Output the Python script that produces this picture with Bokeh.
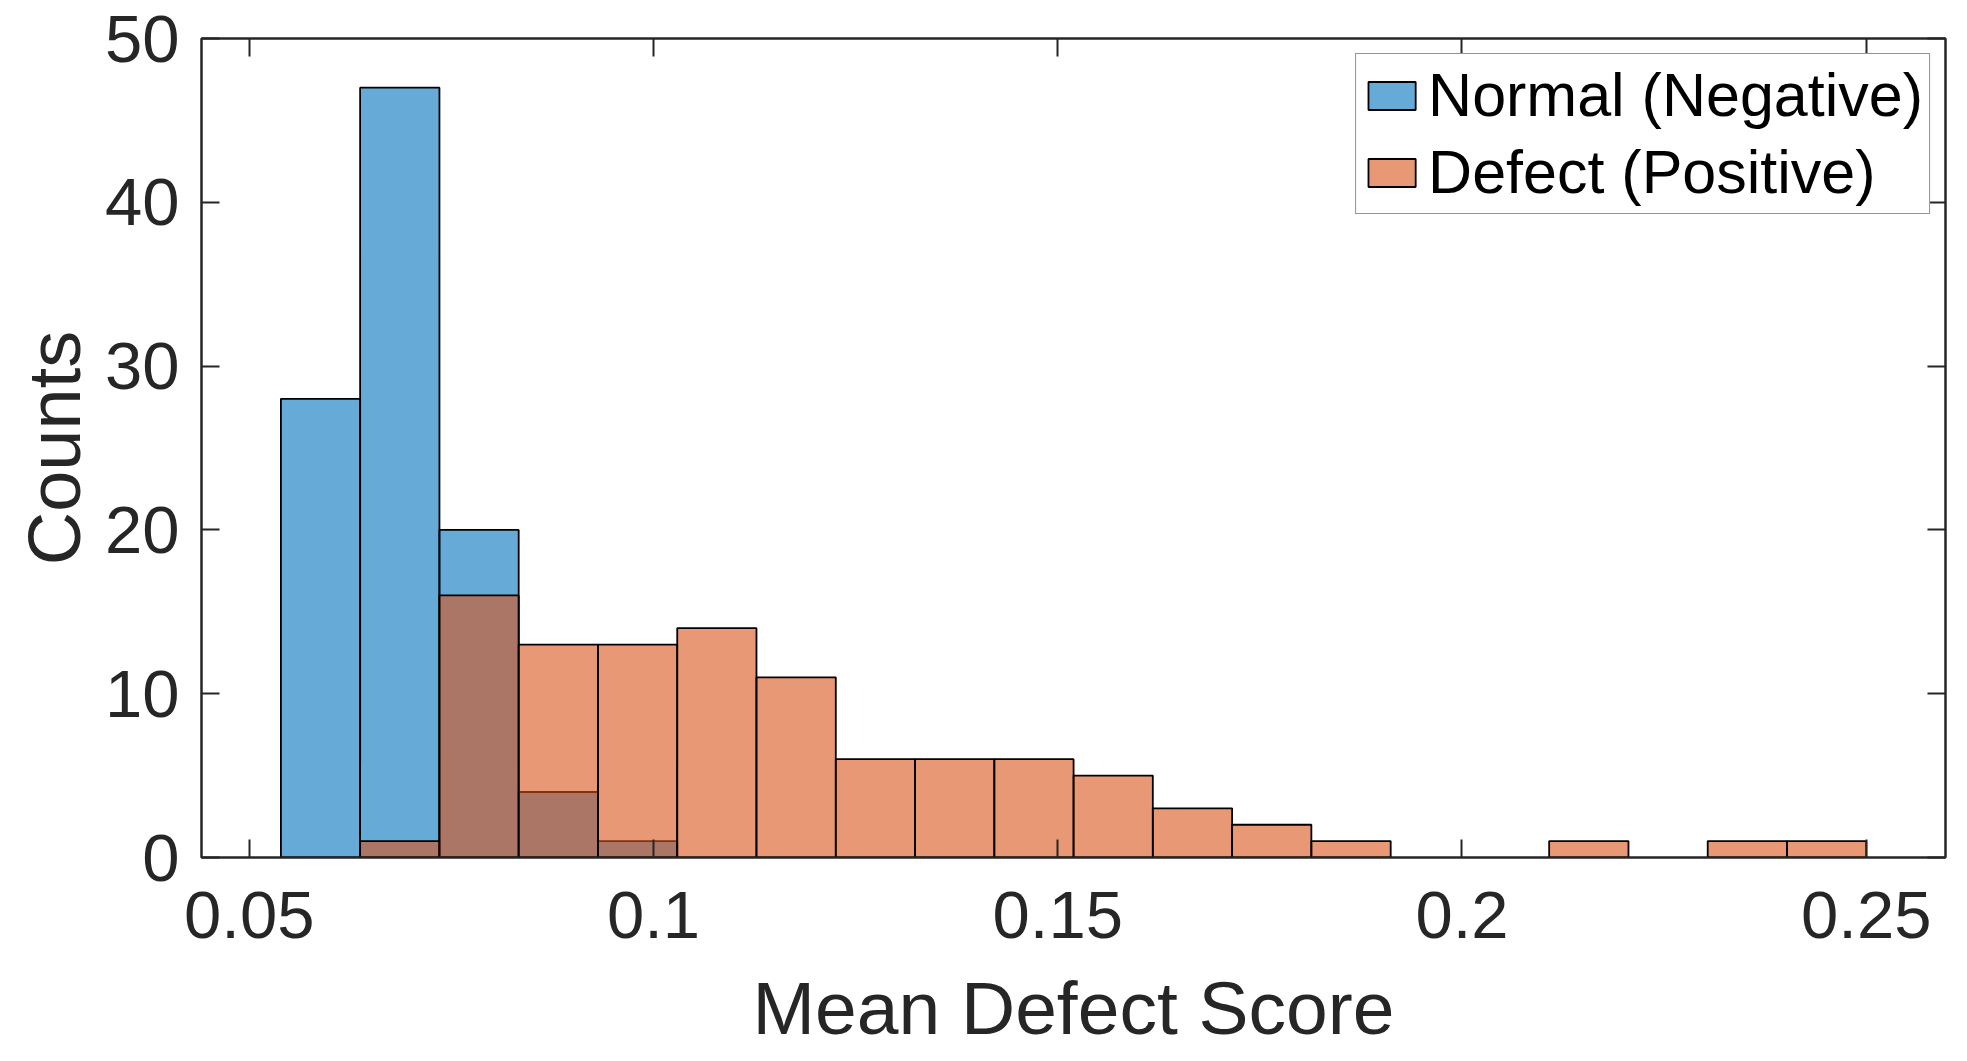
from bokeh.plotting import figure
from bokeh.models import (LinearAxis, Range1d, FixedTicker, Legend, LegendItem,
                          ColumnDataSource, CustomJSTickFormatter)
from bokeh.embed import file_html
from bokeh.resources import INLINE

# ---- data ----
bin_edges = [0.05392, 0.06372, 0.07353, 0.08333, 0.09314, 0.10294, 0.11274,
             0.12255, 0.13235, 0.14216, 0.15196, 0.16176, 0.17157, 0.18137,
             0.19118, 0.20098, 0.21078, 0.22059, 0.23039, 0.24020, 0.25000]
normal_counts = [28, 47, 20, 4, 1, 0, 0, 0, 0, 0, 0, 0, 0, 0, 0, 0, 0, 0, 0, 0]
defect_counts = [0, 1, 16, 13, 13, 14, 11, 6, 6, 6, 5, 3, 2, 1, 0, 0, 1, 0, 1, 1]
x_ticks = [0.05, 0.1, 0.15, 0.2, 0.25]
y_ticks = [0, 10, 20, 30, 40, 50]
series_labels = ["Normal (Negative)", "Defect (Positive)"]
x_label = "Mean Defect Score"
y_label = "Counts"

BLUE = "#0072BD"
ORANGE = "#D95319"
AX = "#262626"
FONT = "Liberation Sans"


def hist_source(counts):
    left = [bin_edges[i] for i, c in enumerate(counts) if c > 0]
    right = [bin_edges[i + 1] for i, c in enumerate(counts) if c > 0]
    top = [c for c in counts if c > 0]
    return ColumnDataSource(dict(left=left, right=right, top=top, bottom=[0] * len(top)))


p = figure(frame_width=1744, frame_height=819,
           x_range=Range1d(0.0441, 0.2598), y_range=Range1d(0, 50),
           output_backend="svg", toolbar_location=None,
           min_border_left=201, min_border_right=6,
           min_border_top=38, min_border_bottom=188)
p.xgrid.visible = False
p.ygrid.visible = False
p.outline_line_color = AX
p.outline_line_width = 2
p.background_fill_color = "white"
p.border_fill_color = "white"

r1 = p.quad(left="left", right="right", top="top", bottom="bottom",
            source=hist_source(normal_counts), fill_color=BLUE, fill_alpha=0.6,
            line_color="black", line_width=1.8)
r2 = p.quad(left="left", right="right", top="top", bottom="bottom",
            source=hist_source(defect_counts), fill_color=ORANGE, fill_alpha=0.6,
            line_color="black", line_width=1.8)

fmt = CustomJSTickFormatter(code="return String(Math.round(tick*1000)/1000);")
blank = CustomJSTickFormatter(code="return '';")


def style_axis(ax, ticks, formatter, size):
    ax.ticker = FixedTicker(ticks=ticks)
    ax.formatter = formatter
    ax.major_tick_in = 18
    ax.major_tick_out = 0
    ax.minor_tick_in = 0
    ax.minor_tick_out = 0
    ax.axis_line_color = AX
    ax.axis_line_width = 2
    ax.major_tick_line_color = AX
    ax.major_tick_line_width = 2
    ax.major_label_text_font = FONT
    ax.major_label_text_font_size = size
    ax.major_label_text_color = AX
    ax.axis_label_text_font = FONT
    ax.axis_label_text_font_style = "normal"
    ax.axis_label_text_color = AX


style_axis(p.xaxis[0], x_ticks, fmt, "67px")
style_axis(p.yaxis[0], y_ticks, fmt, "67px")
p.xaxis[0].major_label_standoff = 34
p.yaxis[0].major_label_standoff = 22
p.xaxis[0].axis_label = x_label
p.xaxis[0].axis_label_text_font_size = "75px"
p.xaxis[0].axis_label_standoff = 25
p.yaxis[0].axis_label = y_label
p.yaxis[0].axis_label_text_font_size = "74px"
p.yaxis[0].axis_label_standoff = 6

top_ax = LinearAxis()
style_axis(top_ax, x_ticks, blank, "10px")
top_ax.major_label_standoff = 0
p.add_layout(top_ax, "above")
right_ax = LinearAxis()
style_axis(right_ax, y_ticks, blank, "10px")
right_ax.major_label_standoff = 0
p.add_layout(right_ax, "right")

legend = Legend(items=[LegendItem(label=series_labels[0], renderers=[r1]),
                       LegendItem(label=series_labels[1], renderers=[r2])],
                location="top_right", margin=15, padding=6, spacing=7,
                glyph_width=59, glyph_height=35, label_standoff=7,
                label_text_font=FONT, label_text_font_size="61px",
                label_text_color="black", border_line_color=AX,
                border_line_width=1, background_fill_color="white",
                background_fill_alpha=1.0)
p.add_layout(legend)

open("out.html", "w").write(file_html(p, INLINE))
